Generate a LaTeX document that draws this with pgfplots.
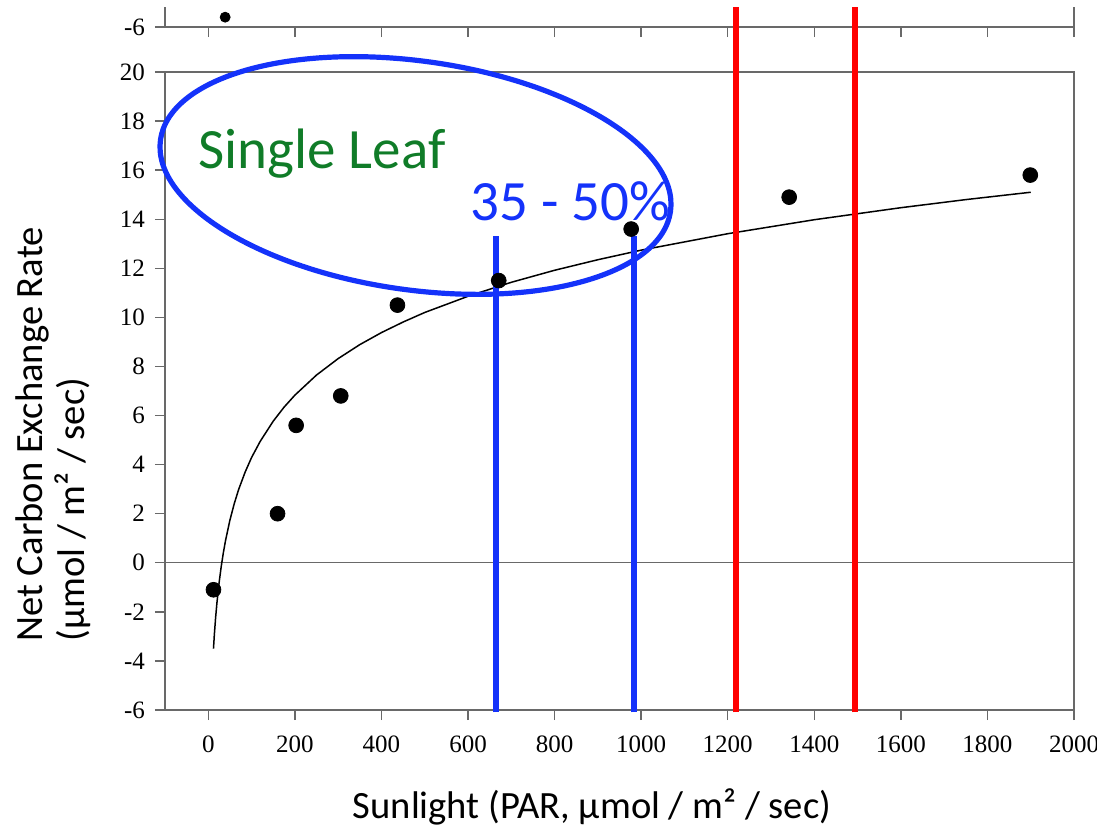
\documentclass[border=0pt]{standalone}
\usepackage{fontspec}
\setmainfont{Carlito}
\newfontfamily\tickfont{Liberation Serif}
\usepackage{pgfplots}
\pgfplotsset{compat=1.18}
\definecolor{axgray}{RGB}{105,105,105}
\definecolor{annblue}{RGB}{20,50,250}
\definecolor{leafgreen}{RGB}{16,124,40}
\definecolor{vred}{RGB}{255,0,0}

\pgfplotsset{leafaxis/.style={
    width=454.5pt, height=319pt, scale only axis,
    xmin=-100, xmax=2000, ymin=-6, ymax=20,
    axis line style={axgray, line width=0.7pt},
    every tick/.style={axgray, line width=0.7pt},
    tick align=outside, xtick pos=left, ytick pos=left,
    major tick length=5pt,
    xtick={0,200,...,2000},
    xticklabels={0,200,400,600,800,1000,1200,1400,1600,1800,2000},
    ytick={-6,-4,...,20},
    yticklabels={-6,-4,-2,0,2,4,6,8,10,12,14,16,18,20},
    ticklabel style={font=\tickfont\fontsize{12.5}{14}\selectfont},
    xticklabel style={yshift=-4.5pt},
    yticklabel style={xshift=-1.5pt},
}}

\begin{document}
\begin{tikzpicture}
% strip of the chart above, cut off by the page edge
\begin{scope}
\clip (-100pt,0pt) rectangle (500pt,351pt);
\begin{axis}[leafaxis, at={(0pt,341.5pt)}, anchor=south west,
    ytick={-6}, yticklabels={-6}, xticklabels={}]
\addplot[only marks, mark=*, mark size=2.5pt, black] coordinates {(39,-5.6)};
\end{axis}
\end{scope}

\begin{axis}[leafaxis, at={(0pt,0pt)}, anchor=south west, clip=false]
\addplot[axgray, line width=0.6pt] coordinates {(-100,0) (2000,0)};
% fitted curve
\addplot[black, line width=0.75pt] coordinates {
    (12,-3.50) (14,-2.93) (17,-2.22) (20,-1.63) (25,-0.81) (30,-0.14)
    (35,0.43) (40,0.92) (50,1.74) (60,2.41) (70,2.98) (85,3.69)
    (100,4.29) (120,4.95) (150,5.77) (175,6.34) (200,6.83) (250,7.65)
    (300,8.32) (350,8.89) (400,9.38) (450,9.81) (500,10.20) (600,10.86)
    (700,11.43) (800,11.92) (900,12.35) (1000,12.74) (1200,13.41)
    (1400,13.98) (1600,14.47) (1750,14.80) (1900,15.10)};
% measurements
\addplot[only marks, mark=*, mark size=3.7pt, black] coordinates {
    (12,-1.1) (160,2.0) (203,5.6) (306,6.8) (437,10.5)
    (671,11.5) (977,13.6) (1342,14.9) (1899,15.8)};
% range markers
\addplot[annblue, line width=3pt] coordinates {(664,-6.1) (664,13.3)};
\addplot[annblue, line width=3pt] coordinates {(984,-6.1) (984,13.3)};
\addplot[vred, line width=3pt] coordinates {(1220,-6.1) (1220,22.65)};
\addplot[vred, line width=3pt] coordinates {(1495,-6.1) (1495,22.65)};
\end{axis}

\draw[annblue, line width=2.6pt, rotate around={-8:(125.25pt,267.25pt)}]
    (125.25pt,267.25pt) ellipse [x radius=128.75pt, y radius=57.2pt];
\node[anchor=base west, inner sep=0pt, text=leafgreen, font=\fontsize{28.5}{33}\selectfont]
    at (16.5pt,271pt) {Single Leaf};
\node[anchor=base west, inner sep=0pt, text=annblue, font=\fontsize{28.5}{33}\selectfont]
    at (152.5pt,245pt) {35 - 50\%};

\node[anchor=base, inner sep=0pt, font=\fontsize{19.3}{23}\selectfont]
    at (213.5pt,-54pt) {Sunlight (PAR, µmol / m² / sec)};
\node[rotate=90, anchor=base west, inner sep=0pt, font=\fontsize{19.3}{23}\selectfont]
    at (-61pt,34pt) {Net Carbon Exchange Rate};
\node[rotate=90, anchor=base west, inner sep=0pt, font=\fontsize{19.3}{23}\selectfont]
    at (-40pt,34pt) {(µmol / m² / sec)};

\pgfresetboundingbox
\useasboundingbox (-82.5pt,-63.5pt) rectangle (466pt,355pt);
\end{tikzpicture}
\end{document}
